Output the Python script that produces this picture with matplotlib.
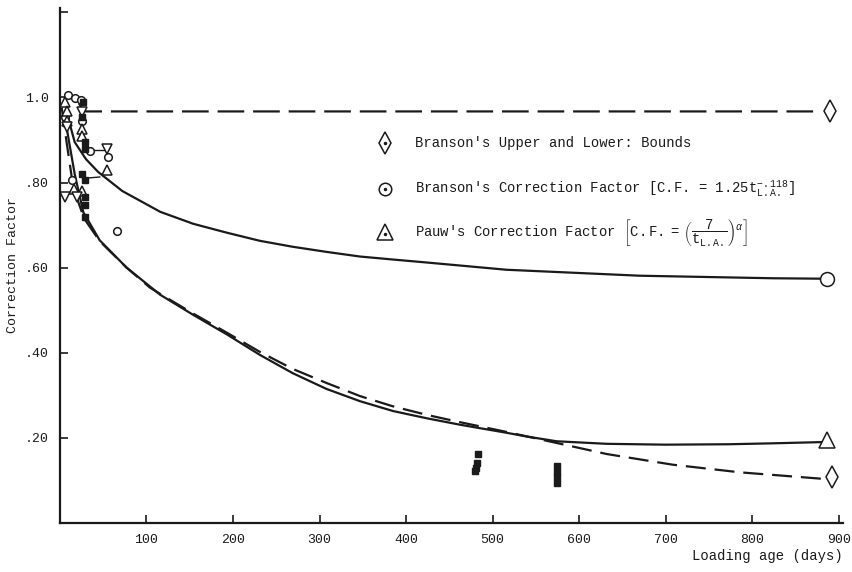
import matplotlib
matplotlib.use("Agg")
import matplotlib.pyplot as plt

plt.rcParams['font.family'] = ['Liberation Mono', 'DejaVu Sans']
plt.rcParams['mathtext.fontset'] = 'custom'
plt.rcParams['mathtext.rm'] = 'Liberation Mono'
plt.rcParams['mathtext.it'] = 'Liberation Mono:italic'
plt.rcParams['mathtext.bf'] = 'Liberation Mono:bold'

# ---- curves (loading age in days, correction factor) ----
upper_t = [22, 26, 30, 60, 200, 400, 600, 800, 880]
upper_v = [0.985, 0.972, 0.967, 0.967, 0.967, 0.967, 0.967, 0.967, 0.967]

branson_t = [7, 17, 30, 44, 72, 116, 154, 193, 231, 269, 308, 347, 385, 424,
             462, 516, 593, 670, 747, 824, 880]
branson_v = [0.97, 0.895, 0.855, 0.825, 0.78, 0.731, 0.703, 0.682, 0.663, 0.649,
             0.637, 0.626, 0.619, 0.612, 0.605, 0.595, 0.588, 0.581, 0.578,
             0.575, 0.574]

pauw_t = [6, 8, 17, 27, 46, 77, 116, 154, 193, 231, 269, 308, 347, 385, 424,
          462, 516, 540, 574, 632, 700, 773, 820, 880]
pauw_v = [0.965, 0.925, 0.82, 0.73, 0.664, 0.600, 0.536, 0.489, 0.443, 0.395,
          0.352, 0.315, 0.286, 0.263, 0.246, 0.231, 0.212, 0.203, 0.192, 0.186,
          0.184, 0.185, 0.187, 0.190]

lower_t = [2, 8, 14, 21, 28, 46, 58, 77, 104, 116, 154, 193, 231, 269, 308,
           347, 385, 424, 462, 516, 574, 632, 708, 786, 880]
lower_v = [0.976, 0.89, 0.807, 0.755, 0.715, 0.662, 0.638, 0.600, 0.553, 0.538,
           0.492, 0.447, 0.402, 0.362, 0.329, 0.298, 0.274, 0.254, 0.237, 0.214,
           0.188, 0.162, 0.137, 0.119, 0.104]

# end-of-curve symbols
end_upper = (890, 0.967)
end_branson = (887, 0.574)
end_pauw = (887, 0.195)
end_lower = (892, 0.107)

# ---- measured points ----
circ_t = [9, 17, 24, 6, 25, 35, 56, 14, 66]
circ_v = [1.005, 0.998, 0.995, 0.955, 0.944, 0.873, 0.859, 0.807, 0.685]

tri_t = [6, 8, 8, 26, 26, 54, 16, 26]
tri_v = [0.99, 0.967, 0.945, 0.925, 0.91, 0.83, 0.784, 0.78]

dtri_t = [8, 25, 54, 6, 20]
dtri_v = [0.93, 0.965, 0.878, 0.765, 0.765]

sq_t = [27, 26, 29, 29, 26, 29, 29, 29, 29,
        483, 482, 481, 480, 574, 574, 574, 574]
sq_v = [0.99, 0.955, 0.896, 0.878, 0.819, 0.807, 0.767, 0.748, 0.72,
        0.163, 0.141, 0.130, 0.121, 0.133, 0.120, 0.107, 0.095]

# short connecting strokes between plotted points
link_t = [[29, 54], [29, 46]]
link_v = [[0.877, 0.877], [0.81, 0.813]]

x_ticks = [100, 200, 300, 400, 500, 600, 700, 800, 900]
y_ticks = [0.2, 0.4, 0.6, 0.8, 1.0, 1.2]
y_ticklabels = ['.20', '.40', '.60', '.80', '1.0', '']

key_markers = ['d', 'o', '^']
key_labels = [
    "Branson's Upper and Lower: Bounds",
    r"Branson's Correction Factor [C.F. = $\mathrm{1.25t}_{\mathrm{L.A.}}^{-.118}$]",
    r"Pauw's Correction Factor $\left[\mathrm{C.F.}\ =\ \left(\dfrac{7}{\mathrm{t}_{\mathrm{L.A.}}}\right)^{\alpha}\right]$",
]

fig = plt.figure(figsize=(8.52, 5.72), dpi=100)
ax = fig.add_axes([0.0704, 0.0857, 0.919, 0.9003])

ink = '#1a1a1a'
ax.plot(upper_t, upper_v, color=ink, lw=1.6, dashes=(12, 4))
ax.plot(branson_t, branson_v, color=ink, lw=1.6)
ax.plot(pauw_t, pauw_v, color=ink, lw=1.6)
ax.plot(lower_t, lower_v, color=ink, lw=1.6, dashes=(9, 4))

for lt, lv in zip(link_t, link_v):
    ax.plot(lt, lv, color=ink, lw=1.0)

mk = dict(linestyle='none', markerfacecolor='white', markeredgecolor=ink,
          markeredgewidth=1.1)
ax.plot(circ_t, circ_v, marker='o', markersize=5.5, **mk)
ax.plot(tri_t, tri_v, marker='^', markersize=6.5, **mk)
ax.plot(dtri_t, dtri_v, marker='v', markersize=6.5, **mk)
ax.plot(sq_t, sq_v, marker='s', linestyle='none', markersize=4.5,
        color=ink)

ax.plot(*end_upper, marker='d', markersize=11, **mk)
ax.plot(*end_branson, marker='o', markersize=10, **mk)
ax.plot(*end_pauw, marker='^', markersize=11, **mk)
ax.plot(*end_lower, marker='d', markersize=11, **mk)

# key: dotted symbol + label per row (axes fractions)
key_x, text_x = 0.415, 0.4534
key_rows = [0.738, 0.649, 0.565]
for m, lab, yr in zip(key_markers, key_labels, key_rows):
    ax.plot([key_x], [yr], transform=ax.transAxes, marker=m,
            markersize=11 if m != 'o' else 9, clip_on=False, **mk)
    ax.plot([key_x], [yr - (0.004 if m == '^' else 0)], transform=ax.transAxes,
            marker='.', markersize=3, color=ink, linestyle='none')
    ax.text(text_x, yr - 0.0078, lab, transform=ax.transAxes, fontsize=10,
            va='baseline', ha='left', color=ink)

ax.set_xlim(0, 905)
ax.set_ylim(0, 1.21)
ax.set_xticks(x_ticks)
ax.set_yticks(y_ticks)
ax.set_yticklabels(y_ticklabels)
ax.tick_params(direction='in', length=6, width=1.2, labelsize=9.5, colors=ink)
ax.tick_params(axis='y', pad=8)
ax.tick_params(axis='x', pad=8)

for side in ('top', 'right'):
    ax.spines[side].set_visible(False)
for side in ('left', 'bottom'):
    ax.spines[side].set_linewidth(1.6)
    ax.spines[side].set_color(ink)

ax.set_ylabel('Correction Factor', fontsize=9.5, labelpad=4, color=ink)
ax.set_xlabel('Loading age (days)', fontsize=10, loc='right', labelpad=2,
              color=ink)

fig.savefig('out.png', dpi=100)
